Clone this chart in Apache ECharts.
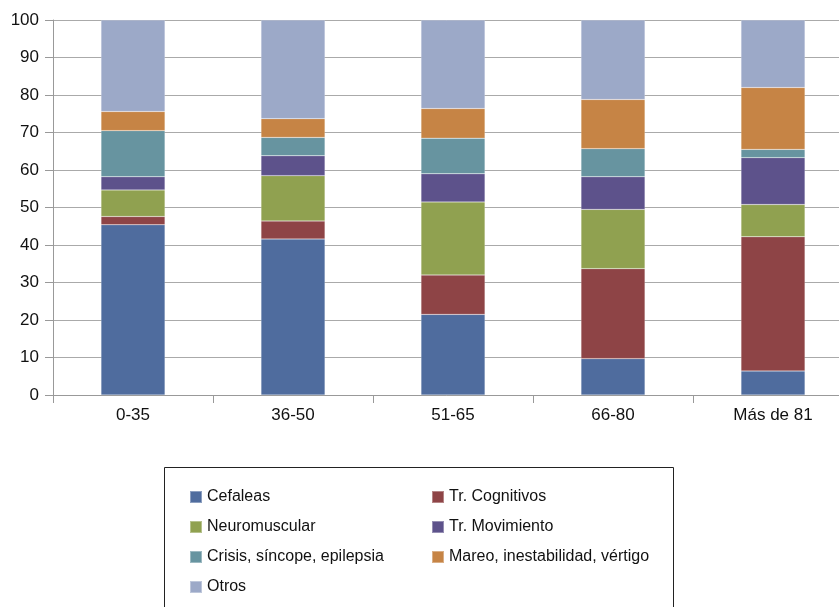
<!DOCTYPE html>
<html>
<head>
<meta charset="utf-8">
<script src="https://cdn.jsdelivr.net/npm/echarts@6/dist/echarts.min.js"></script>
<style>
  html, body { margin: 0; padding: 0; background: #fff; }
  #chart { width: 839px; height: 607px; }
</style>
</head>
<body>
<div id="chart"></div>
<script>
// Age groups
const categories = ['0-35', '36-50', '51-65', '66-80', 'Más de 81'];

// Share (%) of each diagnosis group per age band
const cefaleas      = [45.4, 41.6, 21.5,  9.7,  6.4];
const cognitivos    = [ 2.2,  4.8, 10.5, 24.0, 35.8];
const neuromuscular = [ 7.1, 12.1, 19.5, 15.8,  8.6];
const movimiento    = [ 3.5,  5.3,  7.5,  8.7, 12.5];
const crisis        = [12.3,  4.9,  9.5,  7.5,  2.2];
const mareo         = [ 5.1,  5.0,  7.9, 13.1, 16.5];
const otros         = [24.4, 26.3, 23.6, 21.2, 18.0];

const yTicks = [0, 10, 20, 30, 40, 50, 60, 70, 80, 90, 100];

const seriesDefs = [
  { name: 'Cefaleas', data: cefaleas, color: '#4F6C9E' },
  { name: 'Tr. Cognitivos', data: cognitivos, color: '#8E4446' },
  { name: 'Neuromuscular', data: neuromuscular, color: '#90A150' },
  { name: 'Tr. Movimiento', data: movimiento, color: '#5D528B' },
  { name: 'Crisis, síncope, epilepsia', data: crisis, color: '#6794A0' },
  { name: 'Mareo, inestabilidad, vértigo', data: mareo, color: '#C68445' },
  { name: 'Otros', data: otros, color: '#9CA9C8' }
];

const chart = echarts.init(document.getElementById('chart'), null, { renderer: 'canvas' });

const font = 'Liberation Sans, Arial, Helvetica, sans-serif';
const legendText = { fontFamily: font, fontSize: 16, color: '#111', lineHeight: 18 };

chart.setOption({
  animation: false,
  textStyle: { fontFamily: font },
  // plot area runs past the right edge of the canvas
  grid: { left: 53, width: 800, top: 20, bottom: 212, containLabel: false, outerBoundsMode: 'none' },
  xAxis: {
    type: 'category',
    data: categories,
    axisLine: { lineStyle: { color: '#999', width: 1 } },
    axisTick: { show: true, length: 8, interval: 0, lineStyle: { color: '#999' } },
    axisLabel: { fontFamily: font, fontSize: 17, color: '#111', margin: 12, interval: 0 }
  },
  yAxis: {
    type: 'value',
    min: yTicks[0],
    max: yTicks[yTicks.length - 1],
    interval: 10,
    axisLine: { show: true, lineStyle: { color: '#999', width: 1 } },
    axisTick: { show: true, length: 8, lineStyle: { color: '#999' } },
    axisLabel: { fontFamily: font, fontSize: 17, color: '#111', margin: 14 },
    splitLine: { lineStyle: { color: '#aaa', width: 1 } }
  },
  legend: [
    {
      data: ['Cefaleas', 'Neuromuscular', 'Crisis, síncope, epilepsia', 'Otros'],
      orient: 'vertical',
      left: 184, top: 483,
      itemWidth: 12, itemHeight: 12, itemGap: 12,
      icon: 'rect',
      textStyle: legendText,
      selectedMode: false
    },
    {
      data: ['Tr. Cognitivos', 'Tr. Movimiento', 'Mareo, inestabilidad, vértigo'],
      orient: 'vertical',
      left: 426, top: 483,
      itemWidth: 12, itemHeight: 12, itemGap: 12,
      icon: 'rect',
      textStyle: legendText,
      selectedMode: false
    }
  ],
  graphic: [
    {
      type: 'rect',
      shape: { x: 164.5, y: 467.5, width: 509, height: 160 },
      style: { fill: 'none', stroke: '#222', lineWidth: 1 },
      silent: true
    }
  ],
  series: seriesDefs.map(s => ({
    name: s.name,
    type: 'bar',
    stack: 'total',
    data: s.data,
    barWidth: 64,
    itemStyle: { color: s.color, borderColor: 'rgba(255,255,255,0.35)', borderWidth: 0.5 }
  }))
});
</script>
</body>
</html>
